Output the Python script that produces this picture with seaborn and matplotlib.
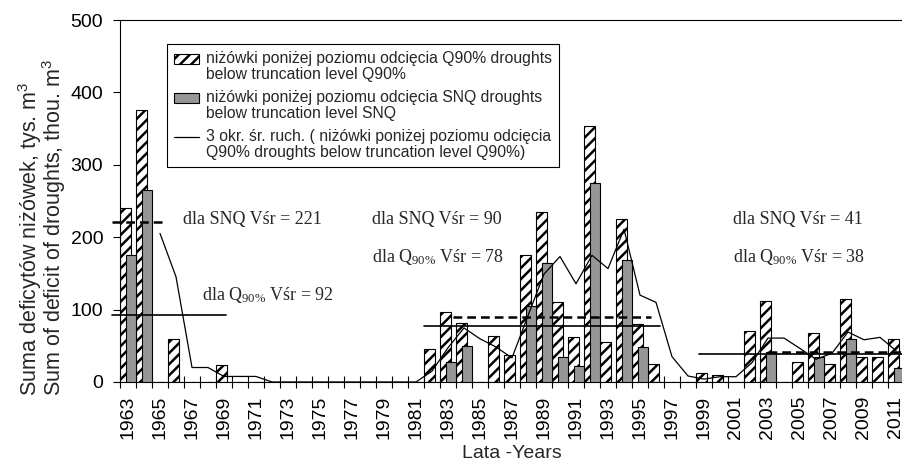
import numpy as np
import pandas as pd
import matplotlib
matplotlib.use('Agg')
import matplotlib.pyplot as plt
import seaborn as sns
from matplotlib.patches import Patch
from matplotlib.lines import Line2D
from matplotlib.legend_handler import HandlerPatch, HandlerLine2D

# data (thous. m3)
years = list(range(1963, 2012))
q90 = [240, 376, 0, 60, 0, 0, 23,
       0, 0, 0, 0, 0, 0, 0, 0, 0, 0, 0, 0,
       45, 97, 82, 0, 63, 37, 175, 235, 110, 62, 353, 55, 225, 80, 25,
       0, 0, 12, 10, 0, 70, 112, 0, 27, 67, 25, 115, 35, 35, 60]
snq = [175, 265, 0, 0, 0, 0, 0,
       0, 0, 0, 0, 0, 0, 0, 0, 0, 0, 0, 0,
       0, 27, 50, 0, 0, 0, 105, 165, 35, 22, 275, 0, 168, 49, 0,
       0, 0, 0, 0, 0, 0, 42, 0, 0, 35, 0, 60, 0, 0, 19]
mean_snq = [221, 90, 41]
mean_q90 = [92, 78, 38]

df = pd.DataFrame({'year': years, 'q90': q90, 'snq': snq})
df['pos'] = np.arange(len(df))
df['ma'] = df['q90'].rolling(3).mean()

sns.set_theme(style='ticks')
plt.rcParams['font.family'] = ['Liberation Sans', 'DejaVu Sans']
plt.rcParams['mathtext.default'] = 'regular'
plt.rcParams['hatch.linewidth'] = 1.8
plt.rcParams['hatch.color'] = 'black'
plt.rcParams['axes.edgecolor'] = 'black'
plt.rcParams['xtick.color'] = 'black'
plt.rcParams['ytick.color'] = 'black'

fig = plt.figure(figsize=(9.02, 4.70), dpi=100)
ax = fig.add_axes([120 / 902, 88 / 470, 784 / 902, 362 / 470])

sns.barplot(x=df['pos'] - 0.17, y=df['q90'], native_scale=True, orient='x',
            width=0.67, color='white', saturation=1, errorbar=None,
            edgecolor='black', linewidth=0.8, hatch='///', zorder=2, ax=ax)
sns.barplot(x=df['pos'] + 0.17, y=df['snq'], native_scale=True, orient='x',
            width=0.65, color='#969696', saturation=1, errorbar=None,
            edgecolor='black', linewidth=0.8, zorder=3, ax=ax)
sns.lineplot(x=df['pos'], y=df['ma'], color='black', linewidth=0.9, zorder=4, ax=ax)

# mean levels for the three drought periods
snq_spans = [(-1.0, 2.2), (20.3, 32.7), (40.0, 48.7)]
q90_spans = [(-1.0, 6.1), (18.5, 33.25), (35.7, 48.7)]
for (a, b), v in zip(snq_spans, mean_snq):
    ax.plot([a, b], [v, v], color='black', lw=1.8, ls=(0, (3.5, 2)), clip_on=False, zorder=5)
for (a, b), v in zip(q90_spans, mean_q90):
    ax.plot([a, b], [v, v], color='black', lw=1.2, clip_on=False, zorder=5)

serif = ['Liberation Serif', 'DejaVu Serif']
txt_pos_snq = [(3.45, 225), (15.25, 225), (37.8, 225)]
txt_pos_q90 = [(4.6, 120), (15.25, 172), (37.8, 172)]
for (x, y), v in zip(txt_pos_snq, mean_snq):
    ax.text(x, y, f'dla SNQ Vśr = {v}', family=serif, fontsize=13, va='center')
for (x, y), v in zip(txt_pos_q90, mean_q90):
    ax.text(x, y, f'dla Q$_{{90\\%}}$ Vśr = {v}', family=serif, fontsize=13, va='center')

ax.set_xlim(-0.5, 48.5)
ax.set_ylim(0, 500)
ax.set_yticks(range(0, 501, 100))
ax.set_xticks(df['pos'][::2])
ax.set_xticklabels(years[::2], rotation=90)
ax.set_xticks(np.arange(-0.5, 49, 1), minor=True)
ax.tick_params(axis='x', which='major', length=0, pad=10, labelsize=14)
ax.tick_params(axis='x', which='minor', direction='inout', length=8, width=0.8)
ax.tick_params(axis='y', direction='out', length=5, width=0.8, labelsize=14, pad=7)
for s in ax.spines.values():
    s.set_linewidth(0.8)
    s.set_color('black')
ax.set_xlabel('Lata -Years', fontsize=14, labelpad=4)
ax.set_ylabel('')

fig.text(42 / 902, (470 - 396) / 470,
         'Suma deficytów niżówek, tys. m$^3$\nSum of deficit of droughts, thou. m$^3$',
         rotation=90, ha='center', va='bottom', multialignment='left',
         fontsize=15.5, linespacing=0.8)


# legend keys sit on the first line of each two-line label
SHIFT = 6.0


class TopPatch(HandlerPatch):
    def create_artists(self, legend, orig_handle, xdescent, ydescent, width, height, fontsize, trans):
        return super().create_artists(legend, orig_handle, xdescent, ydescent - SHIFT,
                                      width, height, fontsize, trans)


class TopLine(HandlerLine2D):
    def create_artists(self, legend, orig_handle, xdescent, ydescent, width, height, fontsize, trans):
        return super().create_artists(legend, orig_handle, xdescent, ydescent - 2 * SHIFT,
                                      width, height, fontsize, trans)


handles = [Patch(facecolor='white', edgecolor='black', hatch='///', lw=0.8),
           Patch(facecolor='#969696', edgecolor='black', lw=0.8),
           Line2D([], [], color='black', lw=0.9)]
labels = ['niżówki poniżej poziomu odcięcia Q90% droughts\nbelow truncation level Q90%',
          'niżówki poniżej poziomu odcięcia SNQ droughts\nbelow truncation level SNQ',
          '3 okr. śr. ruch. ( niżówki poniżej poziomu odcięcia\nQ90% droughts below truncation level Q90%)']
leg = ax.legend(handles, labels, loc='upper left',
                bbox_to_anchor=(167 / 902, (470 - 44) / 470), bbox_transform=fig.transFigure,
                borderaxespad=0, fontsize=11.3, frameon=True, fancybox=False, framealpha=1,
                edgecolor='black', borderpad=0.45, handlelength=1.6, handleheight=0.55,
                handletextpad=0.45, labelspacing=0.5,
                handler_map={Patch: TopPatch(), Line2D: TopLine()})
leg.get_frame().set_linewidth(0.8)
for t in leg.get_texts():
    t.set_linespacing(1.1)

fig.savefig('out.png', dpi=100)
